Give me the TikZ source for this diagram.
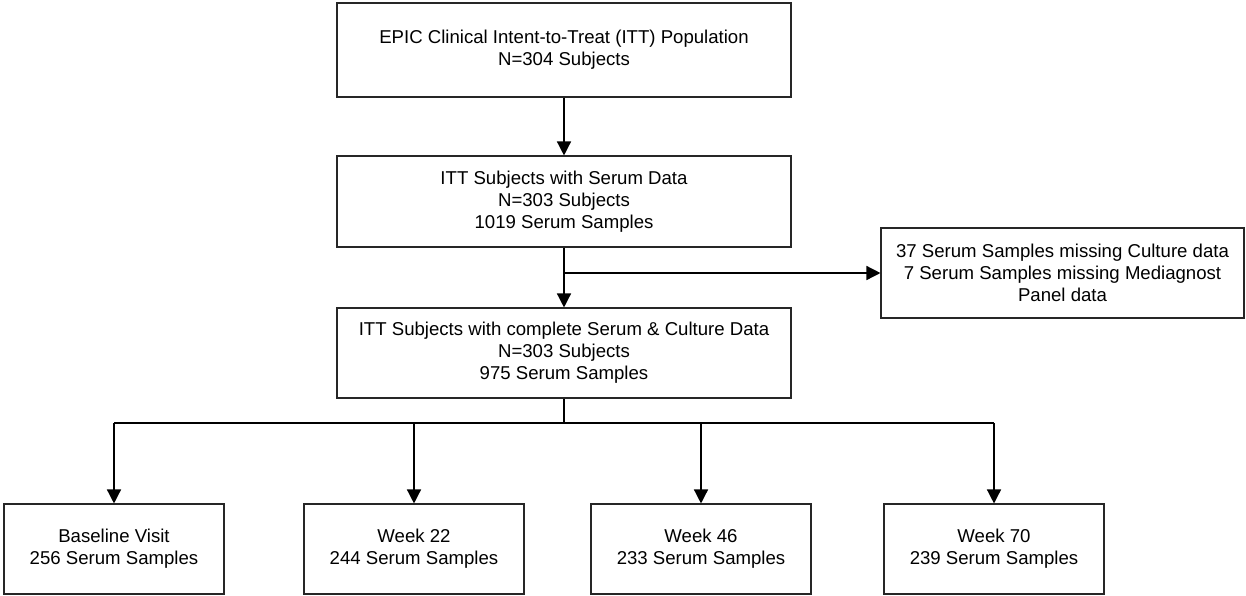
\documentclass[tikz,border=0pt]{standalone}
\usepackage{fontspec}
\setmainfont{Liberation Sans}
\usetikzlibrary{arrows.meta}
\begin{document}
\begin{tikzpicture}[x=1pt,y=-1pt,
  box/.style={draw=black!85, line width=1.1pt, rectangle, align=center, inner sep=0pt,
    font=\fontsize{18.6}{22}\selectfont},
  conn/.style={line width=1.4pt, black},
  arr/.style={conn, -{Triangle[length=14pt,width=14pt]}}]
\useasboundingbox (0,0) rectangle (1246,595);
\node[box, minimum width=454pt, minimum height=94pt] (pop) at (564,50)
  {EPIC Clinical Intent-to-Treat (ITT) Population\\N=304 Subjects};
\node[box, minimum width=454pt, minimum height=91pt] (itt) at (564,201.5)
  {ITT Subjects with Serum Data\\N=303 Subjects\\1019 Serum Samples};
\node[box, minimum width=454pt, minimum height=90pt] (cmp) at (564,353)
  {ITT Subjects with complete Serum \& Culture Data\\N=303 Subjects\\975 Serum Samples};
\node[box, minimum width=363pt, minimum height=90pt] (side) at (1062.5,273)
  {37 Serum Samples missing Culture data\\7 Serum Samples missing Mediagnost\\Panel data};
\node[box, minimum width=220pt, minimum height=90pt] (b1) at (114,549)
  {Baseline Visit\\256 Serum Samples};
\node[box, minimum width=220pt, minimum height=90pt] (b2) at (414,549)
  {Week 22\\244 Serum Samples};
\node[box, minimum width=220pt, minimum height=90pt] (b3) at (701,549)
  {Week 46\\233 Serum Samples};
\node[box, minimum width=220pt, minimum height=90pt] (b4) at (994,549)
  {Week 70\\239 Serum Samples};
\coordinate (bus) at (564,423);
\draw[arr] (pop) -- (itt);
\draw[arr] (itt) -- (cmp);
\draw[arr] (itt.south |- side.west) -- (side.west);
\draw[conn] (cmp) -- (bus);
\draw[conn] (b1 |- bus) -- (b4 |- bus);
\foreach \b in {b1,b2,b3,b4} \draw[arr] (\b |- bus) -- (\b.north);
\end{tikzpicture}
\end{document}
